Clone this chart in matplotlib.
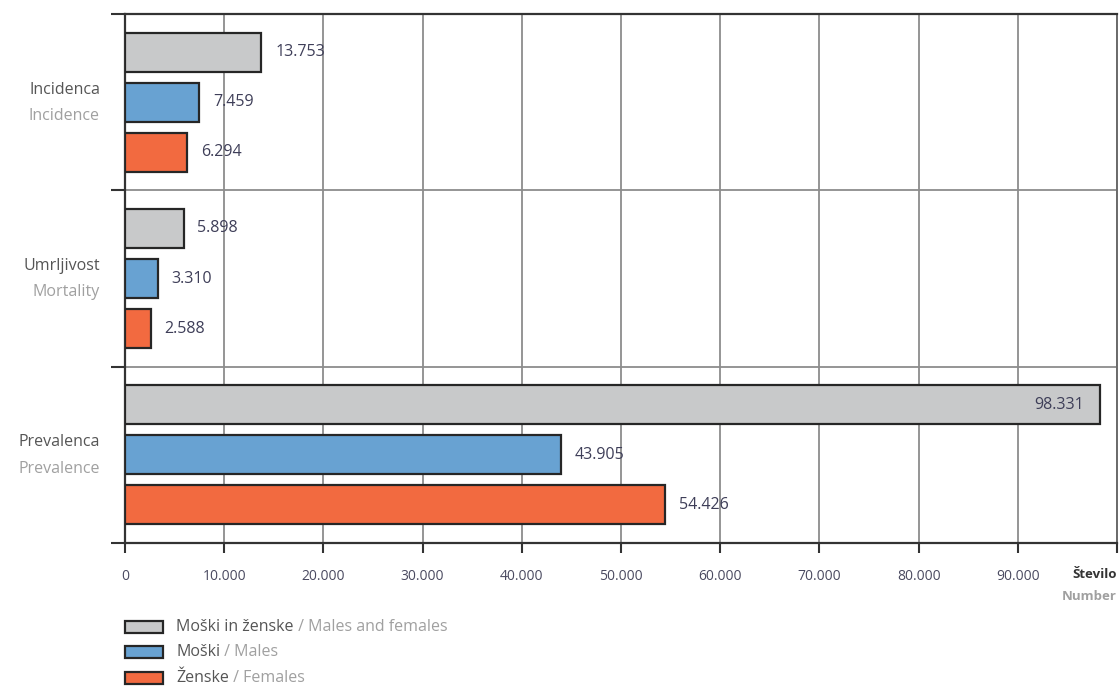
"""
Incidenca, umrljivost in prevalenca - horizontal grouped bars.
"""

import matplotlib
matplotlib.use('Agg')
import matplotlib.pyplot as plt
from matplotlib.patches import Rectangle
import numpy as np

plt.rcParams['font.family'] = ['Open Sans', 'DejaVu Sans']

# Data
GROUPS_SL = ['Incidenca', 'Umrljivost', 'Prevalenca']
GROUPS_EN = ['Incidence', 'Mortality', 'Prevalence']
SERIES_SL = ['Moški in ženske', 'Moški', 'Ženske']
SERIES_EN = ['Males and females', 'Males', 'Females']
total = [13753, 5898, 98331]
males = [7459, 3310, 43905]
females = [6294, 2588, 54426]
x_ticks = [0, 10000, 20000, 30000, 40000, 50000, 60000, 70000, 80000, 90000, 100000]

COLORS = ['#c8c9ca', '#68a2d2', '#f26a40']
EDGE = '#262626'
LABEL_COL = '#3e3e58'
GRID_COL = '#8c8c8c'


def fmt(v):
    return f'{v:,}'.replace(',', '.')


fig = plt.figure(figsize=(11.2, 6.91), dpi=100)
ax = fig.add_axes([125 / 1120, (691 - 543) / 691, 992 / 1120, 529 / 691])

offsets = [-0.284, 0.0, 0.284]
bar_h = 0.222
ypos = np.arange(len(GROUPS_SL))
series = [total, males, females]

for s, vals in enumerate(series):
    ax.barh(ypos + offsets[s], vals, height=bar_h, color=COLORS[s],
            edgecolor=EDGE, linewidth=1.6, zorder=3)
    for g, v in enumerate(vals):
        if v > 90000:
            ax.annotate(fmt(v), (v, ypos[g] + offsets[s]), textcoords='offset points',
                        xytext=(-12, 0), ha='right', va='center', fontsize=11.5,
                        color=LABEL_COL, zorder=4)
        else:
            ax.annotate(fmt(v), (v, ypos[g] + offsets[s]), textcoords='offset points',
                        xytext=(10, 0), ha='left', va='center', fontsize=11.5,
                        color=LABEL_COL, zorder=4)

ax.set_xlim(0, 100000)
ax.set_ylim(2.5, -0.5)

ax.set_xticks(x_ticks)
ax.set_xticklabels([fmt(t) if t < 100000 else '' for t in x_ticks])
ax.set_yticks([-0.5, 0.5, 1.5, 2.5])
ax.set_yticklabels([])
ax.tick_params(axis='x', direction='out', length=7, width=1.5, color='#333333',
               pad=12, labelsize=10, labelcolor='#4a4a60')
ax.tick_params(axis='y', direction='out', length=10, width=1.5, color='#333333')

ax.grid(True, color=GRID_COL, linewidth=1.3, zorder=0)
ax.set_axisbelow(True)
for side in ['top', 'left', 'bottom']:
    ax.spines[side].set_color('#333333')
    ax.spines[side].set_linewidth(1.6)
ax.spines['right'].set_color('#6a6a6a')
ax.spines['right'].set_linewidth(1.4)

# group labels on the left
for g in range(len(GROUPS_SL)):
    ax.annotate(GROUPS_SL[g], (0, ypos[g]), xycoords=('axes fraction', 'data'),
                textcoords='offset points', xytext=(-18, 9), ha='right', va='center',
                fontsize=11.5, color='#555555')
    ax.annotate(GROUPS_EN[g], (0, ypos[g]), xycoords=('axes fraction', 'data'),
                textcoords='offset points', xytext=(-18, -10), ha='right', va='center',
                fontsize=11.5, color='#a0a0a0')

# axis title
fig.text(1117 / 1120, 1 - 575 / 691, 'Število', ha='right', va='center',
         fontsize=9.5, fontweight='bold', color='#333333')
fig.text(1117 / 1120, 1 - 596 / 691, 'Number', ha='right', va='center',
         fontsize=9.5, fontweight='bold', color='#a0a0a0')

# legend
leg_y = [627, 652, 678]
for s in range(len(SERIES_SL)):
    fig.patches.append(Rectangle((125 / 1120, 1 - (leg_y[s] + 6) / 691), 38 / 1120, 12 / 691,
                                 transform=fig.transFigure, facecolor=COLORS[s],
                                 edgecolor=EDGE, linewidth=1.6))
    t = fig.text(176 / 1120, 1 - leg_y[s] / 691, SERIES_SL[s], ha='left', va='center',
                 fontsize=11.5, color='#555555')
    ax.annotate(' / ' + SERIES_EN[s], xy=(1, 0.5), xycoords=t, ha='left', va='center',
                fontsize=11.5, color='#a0a0a0', annotation_clip=False)

fig.savefig('out.png', dpi=100)
